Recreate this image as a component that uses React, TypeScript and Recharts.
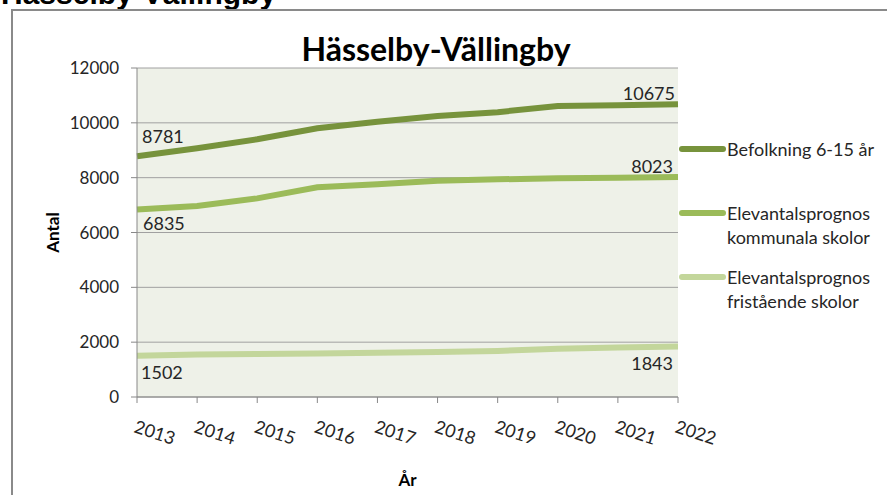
import { CartesianGrid, Line, LineChart, XAxis, YAxis } from "recharts";

const years = ["2013", "2014", "2015", "2016", "2017", "2018", "2019", "2020", "2021", "2022"];
const befolkning = [8781, 9070, 9400, 9800, 10040, 10250, 10390, 10610, 10640, 10675];
const kommunala = [6835, 6965, 7245, 7650, 7757, 7890, 7940, 7975, 8000, 8023];
const fristaende = [1502, 1550, 1565, 1585, 1610, 1640, 1680, 1760, 1810, 1843];
const yTicks = [0, 2000, 4000, 6000, 8000, 10000, 12000];

const data = years.map((year, i) => ({
  year,
  befolkning: befolkning[i],
  kommunala: kommunala[i],
  fristaende: fristaende[i],
}));

const FONT = "Lato, 'Open Sans', sans-serif";
const INK = "#262626";

type LabelPlace = { dx: number; dy: number; anchor: "start" | "end" };

const series = [
  {
    key: "befolkning",
    color: "#77933C",
    lines: ["Befolkning 6-15 år"],
    first: { dx: 5, dy: -20, anchor: "start" } as LabelPlace,
    last: { dx: -3, dy: -11, anchor: "end" } as LabelPlace,
  },
  {
    key: "kommunala",
    color: "#9BBB59",
    lines: ["Elevantalsprognos", "kommunala skolor"],
    first: { dx: 6, dy: 13, anchor: "start" } as LabelPlace,
    last: { dx: -5, dy: -11, anchor: "end" } as LabelPlace,
  },
  {
    key: "fristaende",
    color: "#C3D69B",
    lines: ["Elevantalsprognos", "fristående skolor"],
    first: { dx: 4, dy: 16, anchor: "start" } as LabelPlace,
    last: { dx: -5, dy: 17, anchor: "end" } as LabelPlace,
  },
];

function endLabel(first: LabelPlace, last: LabelPlace) {
  return (props: any) => {
    const { x, y, index, value } = props;
    const place = index === 0 ? first : index === years.length - 1 ? last : null;
    if (!place) return <g />;
    return (
      <text
        x={x + place.dx}
        y={y + place.dy}
        textAnchor={place.anchor}
        dominantBaseline="central"
        fontFamily={FONT}
        fontSize={18}
        fill={INK}
      >
        {value}
      </text>
    );
  };
}

function YearTick(props: any) {
  const { x, y, payload } = props;
  const tx = x - 4;
  const ty = y + 27;
  return (
    <text
      x={tx}
      y={ty}
      transform={`rotate(18, ${tx}, ${ty})`}
      textAnchor="start"
      fontFamily={FONT}
      fontSize={18}
      fill={INK}
    >
      {payload.value}
    </text>
  );
}

function LegendBox() {
  return (
    <div style={{ fontFamily: FONT, fontSize: 18, color: INK, lineHeight: "24px" }}>
      {series.map((s) => (
        <div key={s.key} style={{ display: "flex", alignItems: "flex-start", height: 64 }}>
          <svg width={50} height={24} style={{ flex: "none" }}>
            <line x1={5} x2={46} y1={12} y2={12} stroke={s.color} strokeWidth={6} strokeLinecap="round" />
          </svg>
          <div>
            {s.lines.map((l) => (
              <div key={l}>{l}</div>
            ))}
          </div>
        </div>
      ))}
    </div>
  );
}

export default function App() {
  return (
    <div style={{ position: "absolute", left: 0, top: 0, width: 887, height: 495, overflow: "hidden", background: "#fff" }}>
      <div
        style={{
          position: "absolute",
          left: 1,
          top: -21,
          fontFamily: "'Liberation Sans', Arial, sans-serif",
          fontWeight: 700,
          fontSize: 30,
          lineHeight: "30px",
          color: "#000",
          whiteSpace: "nowrap",
        }}
      >
        Hässelby-Vällingby
      </div>
      <div
        style={{
          position: "absolute",
          left: 11,
          top: 9,
          width: 900,
          height: 520,
          border: "2px solid #8a8a8a",
        }}
      />
      <div style={{ position: "absolute", left: 0, top: 0 }}>
        <LineChart
          width={887}
          height={495}
          data={data}
          margin={{ top: 68, right: 209, bottom: 0, left: 30 }}
        >
          <text
            x={436}
            y={48}
            textAnchor="middle"
            dominantBaseline="central"
            fontFamily={FONT}
            fontWeight={700}
            fontSize={32}
            fill="#000"
          >
            Hässelby-Vällingby
          </text>
          <CartesianGrid vertical={false} stroke="#a0a0a0" fill="#EEF1E8" />
          <XAxis
            dataKey="year"
            height={98}
            stroke="#888"
            tickSize={6}
            tick={<YearTick />}
            interval={0}
            label={(p: any) => (
              <text
                x={p.viewBox.x + p.viewBox.width / 2}
                y={479}
                textAnchor="middle"
                dominantBaseline="central"
                fontFamily={FONT}
                fontWeight={700}
                fontSize={17}
                fill="#000"
              >
                År
              </text>
            )}
          />
          <YAxis
            width={107}
            domain={[0, 12000]}
            ticks={yTicks}
            stroke="#888"
            tickSize={6}
            tickMargin={12}
            tick={{ fontFamily: FONT, fontSize: 17, fill: INK }}
            label={(p: any) => {
              const cx = p.viewBox.x + 22;
              const cy = p.viewBox.y + p.viewBox.height / 2;
              return (
                <text
                  x={cx}
                  y={cy}
                  transform={`rotate(-90, ${cx}, ${cy})`}
                  textAnchor="middle"
                  dominantBaseline="central"
                  fontFamily={FONT}
                  fontWeight={700}
                  fontSize={17}
                  fill="#000"
                >
                  Antal
                </text>
              );
            }}
          />
          {series.map((s) => (
            <Line
              key={s.key}
              type="linear"
              dataKey={s.key}
              stroke={s.color}
              strokeWidth={6}
              dot={false}
              activeDot={false}
              isAnimationActive={false}
              label={endLabel(s.first, s.last)}
            />
          ))}
        </LineChart>
      </div>
      <div style={{ position: "absolute", left: 677, top: 137, width: 210 }}>
        <LegendBox />
      </div>
    </div>
  );
}
